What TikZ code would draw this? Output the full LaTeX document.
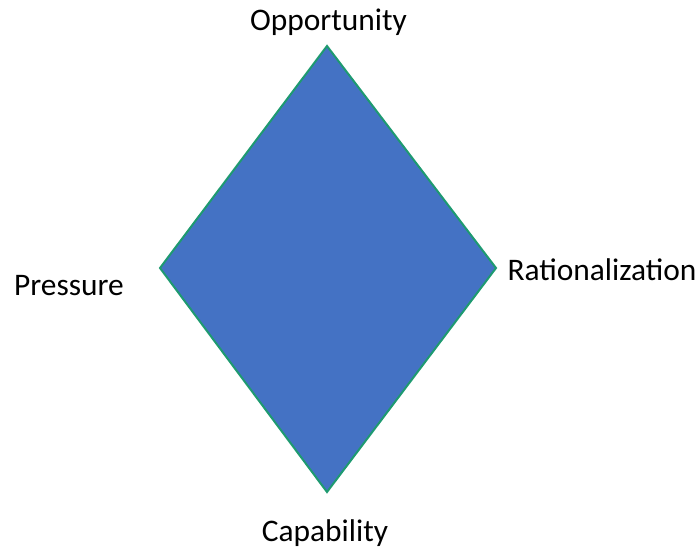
\documentclass[tikz,border=0pt]{standalone}
\usepackage{fontspec}
\setmainfont{Carlito}
\definecolor{fillblue}{HTML}{4472C4}
\definecolor{edgegreen}{HTML}{1E9A70}
\begin{document}
\begin{tikzpicture}[x=1pt,y=-1pt,
  lbl/.style={font=\fontsize{31.4}{36}\selectfont, inner sep=0pt, text=black, anchor=base}]
\useasboundingbox (0,0) rectangle (700,549);
\coordinate (top) at (327,46);
\coordinate (left) at (160,268);
\coordinate (right) at (496,268);
\coordinate (bottom) at (327,492);
\draw[fill=fillblue, draw=edgegreen, line width=2pt, line join=miter] (top) -- (right) -- (bottom) -- (left) -- cycle;
\node[lbl] (opp) at (328.5,30.5) {Opportunity};
\node[lbl] (pre) at (69,295) {Pressure};
\node[lbl] (rat) at (602,280) {Rationalization};
\node[lbl] (cap) at (325,541) {Capability};
\end{tikzpicture}
\end{document}
